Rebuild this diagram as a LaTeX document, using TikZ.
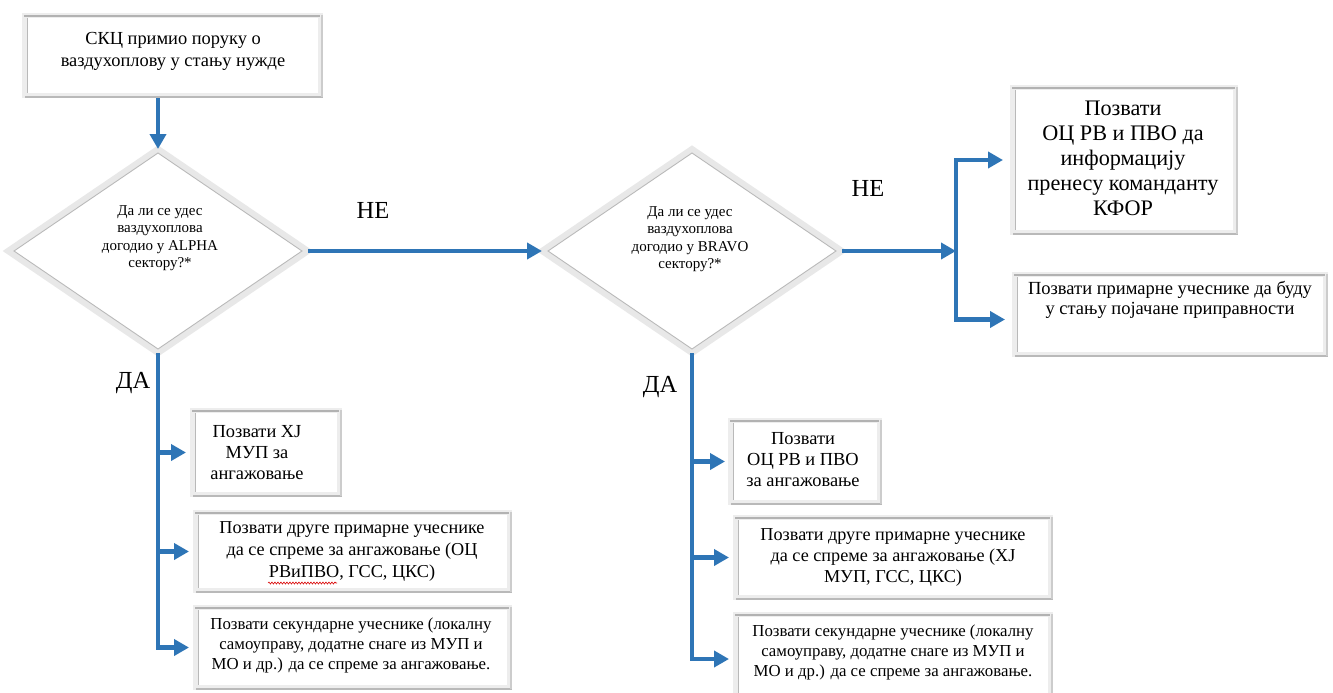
\documentclass[tikz,border=0pt]{standalone}
\usepackage{fontspec}
\setmainfont{Liberation Serif}
\usetikzlibrary{arrows.meta,shapes.geometric,calc,fit,decorations.pathmorphing}

\definecolor{flowblue}{RGB}{46,117,182}

\tikzset{
  flow/.style={draw=flowblue, line width=4.5pt, -{Triangle[length=15pt,width=16pt]}},
  panel/.style={rectangle, fill=gray!14, inner sep=0pt, outer sep=0pt},
  decision/.style={diamond, draw=gray!18, line width=6pt, fill=white, inner sep=0pt,
                   outer sep=0pt, minimum width=300pt, minimum height=204pt},
  txt/.style={align=center, text=black, inner sep=0pt},
  answer/.style={font=\fontsize{24.5}{28}\selectfont, inner sep=0pt},
}

% bevelled frame drawn over a panel node
\newcommand\panelframe[1]{%
  \fill[white] ($(#1.north west)+(5,5)$) rectangle ($(#1.south east)+(-5,-5)$);
  \draw[gray!60, line width=2.5pt] ($(#1.north west)+(2,3)$) -- ($(#1.north east)+(-3,3)$);
  \draw[gray!55, line width=1pt] ($(#1.north west)+(5.5,5)$) -- ($(#1.south west)+(5.5,-5)$);
  \draw[gray!55, line width=2pt] ($(#1.south west)+(3,-1)$) -- ($(#1.south east)+(0,-1)$);
  \draw[gray!40, line width=1.5pt] ($(#1.north east)+(-1,2)$) -- ($(#1.south east)+(-1,-1)$);
}
% thin inner edge of a decision diamond
\newcommand\diamondedge[1]{%
  \draw[gray!55, line width=0.9pt] ($(#1.north)+(0,4)$) -- ($(#1.east)+(-6,0)$)
    -- ($(#1.south)+(0,-4)$) -- ($(#1.west)+(6,0)$) -- cycle;
}

\begin{document}
\begin{tikzpicture}[x=1pt, y=-1pt]
\useasboundingbox (0,0) rectangle (1333,693);
\fill[white] (0,0) rectangle (1333,693);

% ---- boxes ----
\node[panel, fit={(22,13) (323,98)}] (start) {};
\node[panel, fit={(1010,85) (1238,235)}] (kfor) {};
\node[panel, fit={(1012,272) (1328,357)}] (alert) {};
\node[panel, fit={(190,408) (342,497)}] (l1) {};
\node[panel, fit={(193,510) (512,593)}] (l2) {};
\node[panel, fit={(193,605) (512,690)}] (l3) {};
\node[panel, fit={(728,418) (882,505)}] (r1) {};
\node[panel, fit={(733,515) (1053,600)}] (r2) {};
\node[panel, fit={(733,612) (1053,700)}] (r3) {};
\foreach \b in {start,kfor,alert,l1,l2,l3,r1,r2,r3} {\panelframe{\b}}

% ---- decisions ----
\node[decision] (q1) at (158,251) {};
\node[decision] (q2) at (692,251) {};
\diamondedge{q1}
\diamondedge{q2}

% ---- texts ----
\node[txt, font=\fontsize{18.4}{22}\selectfont] (startT) at (173,51)
  {СКЦ примио поруку о\\ваздухоплову у стању нужде};
\node[txt, font=\fontsize{15}{17.5}\selectfont] (q1T) at (160,238)
  {Да ли се удес\\ваздухоплова\\догодио у ALPHA\\сектору?*};
\node[txt, font=\fontsize{15}{17.5}\selectfont] (q2T) at (690,239)
  {Да ли се удес\\ваздухоплова\\догодио у BRAVO\\сектору?*};
\node[txt, font=\fontsize{22.2}{25}\selectfont] (kforT) at (1123,158)
  {Позвати\\ОЦ РВ и ПВО да\\информацију\\пренесу команданту\\КФОР};
\node[txt, font=\fontsize{18.5}{20.5}\selectfont] (alertT) at (1170,300)
  {Позвати примарне учеснике да буду\\у стању појачане приправности};
\node[txt, font=\fontsize{18.4}{21}\selectfont] (l1T) at (257,453)
  {Позвати ХЈ\\МУП за\\ангажовање};
\node[txt, font=\fontsize{18.2}{22}\selectfont] (l2T) at (352,551)
  {Позвати друге примарне учеснике\\да се спреме за ангажовање (ОЦ\\РВиПВО, ГСС, ЦКС)};
\node[txt, font=\fontsize{16.8}{20}\selectfont] (l3T) at (351,645)
  {Позвати секундарне учеснике (локалну\\самоуправу, додатне снаге из МУП и\\МО и др.) да се спреме за ангажовање.};
\node[txt, font=\fontsize{18.4}{21}\selectfont] (r1T) at (803,460)
  {Позвати\\ОЦ РВ и ПВО\\за ангажовање};
\node[txt, font=\fontsize{18.2}{21}\selectfont] (r2T) at (893,557)
  {Позвати друге примарне учеснике\\да се спреме за ангажовање (ХЈ\\МУП, ГСС, ЦКС)};
\node[txt, font=\fontsize{16.8}{20}\selectfont] (r3T) at (893,652)
  {Позвати секундарне учеснике (локалну\\самоуправу, додатне снаге из МУП и\\МО и др.) да се спреме за ангажовање.};

% spelling mark under the abbreviation
\draw[red!85!black, line width=0.6pt, decorate,
      decoration={snake, amplitude=1pt, segment length=3pt}] (268,583) -- (337,583);

% ---- answers ----
\node[answer] (ne1) at (373,210) {НЕ};
\node[answer] (ne2) at (868,188) {НЕ};
\node[answer] (da1) at (133,383) {ДА};
\node[answer] (da2) at (660,387) {ДА};

% ---- connectors ----
\draw[flow] (q1.north |- start.south) -- (q1.north);
\draw[flow] (q1.east) -- (q2.west);

\coordinate (split) at (956,251);
\draw[flow] (q2.east) -- (split);
\draw[flow, shorten >=7pt] (split) |- (kfor.west);
\draw[flow, shorten >=7pt] (split) |- ([yshift=-5pt]alert.west);

\draw[flow, shorten >=4pt] (q1.south) |- (l1.west);
\draw[flow, shorten >=4pt] (q1.south) |- (l2.west);
\draw[flow, shorten >=4pt] (q1.south) |- (l3.west);

\draw[flow, shorten >=3pt] (q2.south) |- (r1.west);
\draw[flow, shorten >=4pt] (q2.south) |- (r2.west);
\draw[flow, shorten >=4pt] (q2.south) |- ([yshift=-3pt]r3.west);
\end{tikzpicture}
\end{document}
